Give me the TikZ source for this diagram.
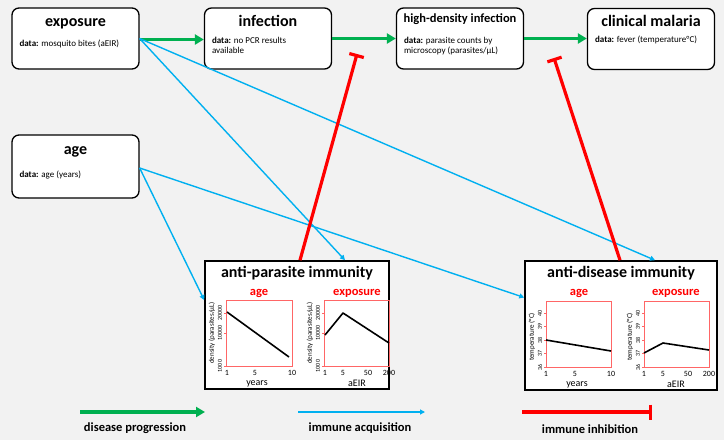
\documentclass[tikz,border=0pt]{standalone}
\usepackage{fontspec}
\setmainfont{Carlito}
\usetikzlibrary{arrows.meta, calc}
\definecolor{bgc}{RGB}{242,242,242}
\definecolor{cprog}{RGB}{0,176,80}
\definecolor{cacq}{RGB}{0,176,240}
\definecolor{cinh}{RGB}{255,0,0}
\tikzset{
  stg/.style ={rectangle, rounded corners=7pt, draw, line width=1.3pt, fill=white, minimum width=127pt, minimum height=61pt},
  imm/.style ={rectangle, draw, line width=1.6pt, fill=white, minimum width=184pt, minimum height=128pt},
  ttl/.style ={font=\fontsize{16}{18}\selectfont\bfseries, inner sep=0pt, anchor=base},
  dat/.style ={font=\fontsize{9}{10}\selectfont, align=left, anchor=north west, inner sep=0pt},
  frm/.style ={draw=cinh!60, line width=0.8pt},
  ptl/.style ={font=\fontsize{12.5}{13}\selectfont\bfseries, text=cinh, inner sep=0pt},
  tk/.style  ={font=\fontsize{6}{6}\selectfont, rotate=90, inner sep=0pt},
  xtk/.style ={font=\fontsize{8}{8}\selectfont, inner sep=0pt},
  axl/.style ={font=\fontsize{10}{10}\selectfont, inner sep=0pt},
  ylb/.style ={font=\fontsize{7}{7}\selectfont, rotate=90, inner sep=0pt},
  crv/.style ={line width=1.6pt, line join=round},
  prg/.style ={draw=cprog, line width=3.2pt, -{Triangle[length=9pt, width=10pt]}},
  acqa/.style={draw=cacq, line width=1.4pt, -{Triangle[length=5pt, width=5pt]}},
  inb/.style ={draw=cinh, line width=3.2pt, -{Bar[width=15pt]}},
  leg/.style ={font=\fontsize{12.5}{13}\selectfont\bfseries, inner sep=0pt},
}
\begin{document}
\begin{tikzpicture}[x=1pt, y=-1pt]
  \fill[bgc] (0,0) rectangle (724,440);
  % disease stages
  \node[stg] (expo) at (75.5,38.5) {};
  \node[ttl] (expo-t) at ([yshift=-19pt]expo.north) {exposure};
  \node[dat] (expo-d) at ([xshift=8pt,yshift=-32pt]expo.north west) {\textbf{data:} mosquito bites (aEIR)};
  \node[stg] (infc) at (268,38.5) {};
  \node[ttl] (infc-t) at ([yshift=-19pt]infc.north) {infection};
  \node[dat] (infc-d) at ([xshift=8pt,yshift=-30pt]infc.north west) {\textbf{data:} no PCR results\\available};
  \node[stg] (hdi) at (460,38.5) {};
  \node[ttl, font=\fontsize{12.5}{14}\selectfont\bfseries] (hdi-t) at ([yshift=-15pt]hdi.north) {high-density infection};
  \node[dat] (hdi-d) at ([xshift=8pt,yshift=-30pt]hdi.north west) {\textbf{data:} parasite counts by\\microscopy (parasites/µL)};
  \node[stg] (clin) at (651,39) {};
  \node[ttl] (clin-t) at ([yshift=-19pt]clin.north) {clinical malaria};
  \node[dat] (clin-d) at ([xshift=8pt,yshift=-28pt]clin.north west) {\textbf{data:} fever (temperature°C)};
  \node[stg, minimum height=63pt] (age) at (75.5,166.5) {};
  \node[ttl] (age-t) at ([yshift=-20pt]age.north) {age};
  \node[dat] (age-d) at ([xshift=8pt,yshift=-36pt]age.north west) {\textbf{data:} age (years)};
  % immunity
  \node[imm] (apimm) at (297,325) {};
  \node[ttl] (apimm-t) at ([yshift=-17pt]apimm.north) {anti-parasite immunity};
  \node[imm, minimum width=192pt, minimum height=129pt] (adimm) at (621,325.5) {};
  \node[ttl] (adimm-t) at ([yshift=-17pt]adimm.north) {anti-disease immunity};
  % anti-parasite vs age
  \begin{scope}[shift={(226,366)}]
    \draw[frm] (0,0) rectangle (66,-66);
    \node[ptl] (pa1-t) at (33,-73) {age};
    \foreach \v/\lab in {0/1000, -33/10000, -53/20000} {
      \draw[frm] (-2,\v) -- (0,\v);
      \node[tk] (pa1-y\lab) at (-6,\v) {\lab};
    }
    \foreach \u/\lab in {1/1, 29/5, 66/10}
      \node[xtk] (pa1-x\lab) at (\u,7) {\lab};
    \node[ylb] (pa1-yl) at (-14,-33) {density (parasites/µL)};
    \node[axl] (pa1-xl) at (31,17.5) {years};
    \draw[crv] (1,-54) -- (63,-9);
  \end{scope}
  % anti-parasite vs exposure
  \begin{scope}[shift={(324,366)}]
    \draw[frm] (0,0) rectangle (65,-66);
    \node[ptl] (pa2-t) at (33,-73) {exposure};
    \foreach \v/\lab in {0/1000, -33/10000, -53/20000} {
      \draw[frm] (-2,\v) -- (0,\v);
      \node[tk] (pa2-y\lab) at (-6,\v) {\lab};
    }
    \foreach \u/\lab in {1/1, 19/5, 44/50, 65/200}
      \node[xtk] (pa2-x\lab) at (\u,7) {\lab};
    \node[ylb] (pa2-yl) at (-14,-33) {density (parasites/µL)};
    \node[axl] (pa2-xl) at (33,17.5) {aEIR};
    \draw[crv] (1,-31) -- (19,-53) -- (65,-23);
  \end{scope}
  % anti-disease vs age
  \begin{scope}[shift={(546,367)}]
    \draw[frm] (0,0) rectangle (65,-66);
    \node[ptl] (da1-t) at (33,-74) {age};
    \foreach \v/\lab in {0/36, -13.5/37, -27/38, -40.5/39, -54/40} {
      \draw[frm] (-2,\v) -- (0,\v);
      \node[tk] (da1-y\lab) at (-6,\v) {\lab};
    }
    \foreach \u/\lab in {0/1, 29/5, 65/10}
      \node[xtk] (da1-x\lab) at (\u,7) {\lab};
    \node[ylb] (da1-yl) at (-14,-30) {temperature (°C)};
    \node[axl] (da1-xl) at (31,17.5) {years};
    \draw[crv] (0,-27) -- (65,-16);
  \end{scope}
  % anti-disease vs exposure
  \begin{scope}[shift={(644,367)}]
    \draw[frm] (0,0) rectangle (65,-66);
    \node[ptl] (da2-t) at (32,-74) {exposure};
    \foreach \v/\lab in {0/36, -13.5/37, -27/38, -40.5/39, -54/40} {
      \draw[frm] (-2,\v) -- (0,\v);
      \node[tk] (da2-y\lab) at (-6,\v) {\lab};
    }
    \foreach \u/\lab in {0/1, 19/5, 44/50, 65/200}
      \node[xtk] (da2-x\lab) at (\u,7) {\lab};
    \node[ylb] (da2-yl) at (-14,-30) {temperature (°C)};
    \node[axl] (da2-xl) at (32,17.5) {aEIR};
    \draw[crv] (0,-14) -- (19,-24) -- (65,-17);
  \end{scope}
  % connectors
  \draw[prg] ([yshift=-1pt]expo.east) -- ([yshift=-1pt]infc.west);
  \draw[prg] (infc.east) -- (hdi.west);
  \draw[prg] (hdi.east) -- (clin.west |- hdi.east);
  \draw[acqa] (expo.east) -- ([xshift=48pt]apimm.north);
  \draw[acqa] (expo.east) -- ([xshift=34pt]adimm.north);
  \draw[acqa] ([yshift=-1.5pt]age.east) -- ([yshift=25pt]apimm.west);
  \draw[acqa] ([yshift=-1.5pt]age.east) -- ([yshift=28pt]adimm.west);
  \coordinate (inh1) at (357,54);
  \coordinate (inh2) at (554,58);
  \draw[inb] ([xshift=3pt]apimm.north) -- (inh1);
  \draw[inb] ([xshift=-1pt]adimm.north) -- (inh2);
  % legend
  \coordinate (lg1a) at (80,412);   \coordinate (lg1b) at (205,412);
  \coordinate (lg2a) at (298,412);  \coordinate (lg2b) at (425,412);
  \coordinate (lg3a) at (522,412);  \coordinate (lg3b) at (652,412);
  \draw[prg] (lg1a) -- (lg1b);
  \draw[acqa, line width=1.2pt] (lg2a) -- (lg2b);
  \draw[inb] (lg3a) -- (lg3b);
  \node[leg] (lg1) at (135,428) {disease progression};
  \node[leg] (lg2) at (360,428) {immune acquisition};
  \node[leg] (lg3) at (590,429) {immune inhibition};
\end{tikzpicture}
\end{document}
